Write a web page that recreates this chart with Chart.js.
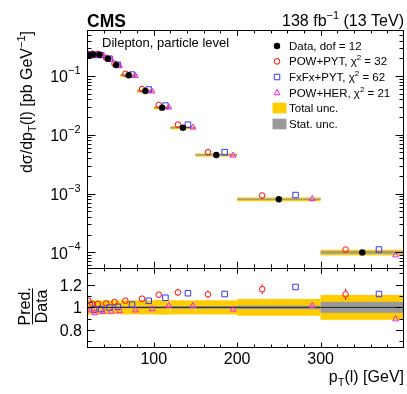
<!DOCTYPE html>
<html lang="en">
<head>
<meta charset="UTF-8">
<title>Lepton pT - dilepton, particle level</title>
<script src="https://cdn.jsdelivr.net/npm/chart.js"></script>
<style>
  html, body { margin: 0; padding: 0; background: #fff; }
  #wrap { position: relative; width: 407px; height: 394px; }
</style>
</head>
<body>
<div id="wrap"><canvas id="myChart" width="407" height="394"></canvas></div>

<script>
    // bins in pT(l) [GeV] and the measured cross section per bin
    const binEdges = [20, 25, 30, 40, 50, 60, 80, 100, 120, 150, 200, 300, 400];
    const dataValues = [0.225, 0.232, 0.230, 0.197, 0.154, 0.103, 0.0556, 0.0289, 0.0132, 0.00453, 0.00080, 0.000100];
    // relative uncertainties of the data
    const totalUnc = [0.065, 0.063, 0.062, 0.06, 0.06, 0.062, 0.062, 0.064, 0.062, 0.062, 0.074, 0.11];
    const statUnc = [0.006, 0.006, 0.006, 0.006, 0.007, 0.008, 0.009, 0.01, 0.012, 0.012, 0.016, 0.048];
    // predictions / data
    const powPytRatio = [1.06, 1.03, 1.03, 1.035, 1.047, 1.059, 1.077, 1.112, 1.132, 1.115, 1.16, 1.115];
    const powPytErr = [0.008, 0.008, 0.008, 0.009, 0.01, 0.012, 0.016, 0.028, 0.034, 0.033, 0.044, 0.05];
    const fxfxRatio = [1.02, 0.98, 0.985, 0.998, 1.005, 1.025, 1.058, 1.085, 1.125, 1.118, 1.18, 1.118];
    const powHerRatio = [0.975, 0.95, 0.962, 0.963, 0.968, 0.975, 0.985, 1.015, 1.014, 0.982, 1.014, 0.896];
    // tick labels
    const xTickLabels = [100, 200, 300];
    const yTickLabels = [1e-4, 1e-3, 1e-2, 1e-1];
    const ratioTickLabels = [0.8, 1, 1.2];
    const legendLabels = ['Data, dof = 12', 'POW+PYT', 'FxFx+PYT', 'POW+HER', 'Total unc.', 'Stat. unc.'];
    const chi2Values = [32, 62, 21];

    const FONT = '"Liberation Sans", Arial, Helvetica, sans-serif';
    const YELLOW = '#ffcc00';
    const GRAY = '#999999';
    const RED = '#ff0000';
    const BLUE = '#3636ff';
    const MAGENTA = '#ee22ee';

    // where each marker sits inside its bin (fraction of the bin width)
    const OFFSET = { data: 0.5, powPyt: 0.3, fxfx: 0.7, powHer: 0.9 };

    function f(size, bold) {
        return (bold ? 'bold ' : '') + size + 'px ' + FONT;
    }

    function binPos(i, frac) {
        return binEdges[i] + frac * (binEdges[i + 1] - binEdges[i]);
    }

    function mainPoints(ratio, frac) {
        return dataValues.map((v, i) => ({ x: binPos(i, frac), y: v * ratio[i] }));
    }

    function ratioPoints(ratio, frac) {
        return ratio.map((r, i) => ({ x: binPos(i, frac), y: r }));
    }

    function markerSet(label, points, axis, style, radius, color, filled) {
        return {
            label: label,
            data: points,
            xAxisID: 'x',
            yAxisID: axis,
            showLine: false,
            pointStyle: style,
            pointRadius: radius,
            pointHoverRadius: radius,
            pointBorderWidth: filled ? 0 : 1,
            pointBorderColor: color,
            pointBackgroundColor: filled ? color : 'rgba(0,0,0,0)'
        };
    }

    // text with sub/superscripts, drawn piece by piece
    function drawRich(ctx, parts, x, y, align) {
        let w = 0;
        parts.forEach(p => {
            ctx.font = p.font;
            p.w = ctx.measureText(p.text).width;
            w += p.w;
        });
        let cx = align === 'right' ? x - w : (align === 'center' ? x - w / 2 : x);
        ctx.textAlign = 'left';
        ctx.textBaseline = 'alphabetic';
        parts.forEach(p => {
            ctx.font = p.font;
            ctx.fillText(p.text, cx, y + (p.dy || 0));
            cx += p.w;
        });
    }

    function line(ctx, x0, y0, x1, y1) {
        ctx.beginPath();
        ctx.moveTo(x0, y0);
        ctx.lineTo(x1, y1);
        ctx.stroke();
    }

    function fillBand(ctx, x0, x1, top, bot, color, minH) {
        const h = Math.max(bot - top, minH);
        const mid = (top + bot) / 2;
        ctx.fillStyle = color;
        ctx.fillRect(x0, mid - h / 2, x1 - x0, h);
    }

    function legendMarker(ctx, style, radius, color, filled, x, y) {
        ctx.save();
        ctx.fillStyle = filled ? color : 'rgba(0,0,0,0)';
        ctx.strokeStyle = color;
        ctx.lineWidth = 1;
        Chart.helpers.drawPoint(ctx, { pointStyle: style, radius: radius, borderWidth: filled ? 0 : 1, rotation: 0 }, x, y);
        ctx.restore();
    }

    const panelPlugin = {
        id: 'panelPlugin',
        beforeDatasetsDraw(chart) {
            const { ctx, chartArea } = chart;
            const x = chart.scales.x, y = chart.scales.y, yr = chart.scales.yr;
            ctx.save();
            ctx.beginPath();
            ctx.rect(chartArea.left, chartArea.top, chartArea.right - chartArea.left, chartArea.bottom - chartArea.top);
            ctx.clip();

            // uncertainty bands, main panel and ratio
            for (let i = 0; i < dataValues.length; i++) {
                const x0 = x.getPixelForValue(binEdges[i]);
                const x1 = x.getPixelForValue(binEdges[i + 1]);
                const v = dataValues[i];
                fillBand(ctx, x0, x1, y.getPixelForValue(v * (1 + totalUnc[i])), y.getPixelForValue(v * (1 - totalUnc[i])), YELLOW, 0);
                fillBand(ctx, x0, x1, y.getPixelForValue(v * (1 + statUnc[i])), y.getPixelForValue(v * (1 - statUnc[i])), GRAY, 1.3);
                fillBand(ctx, x0, x1, yr.getPixelForValue(1 + totalUnc[i]), yr.getPixelForValue(1 - totalUnc[i]), YELLOW, 0);
                fillBand(ctx, x0, x1, yr.getPixelForValue(1 + statUnc[i]), yr.getPixelForValue(1 - statUnc[i]), GRAY, 1.3);
            }

            // line at ratio = 1
            ctx.strokeStyle = '#222';
            ctx.lineWidth = 1;
            const yOne = yr.getPixelForValue(1);
            line(ctx, chartArea.left, yOne, chartArea.right, yOne);

            // POW+PYT error bars in the ratio
            ctx.strokeStyle = RED;
            const r = 3;
            for (let i = 0; i < powPytRatio.length; i++) {
                const px = x.getPixelForValue(binPos(i, OFFSET.powPyt));
                const c = yr.getPixelForValue(powPytRatio[i]);
                const top = yr.getPixelForValue(powPytRatio[i] + powPytErr[i]);
                const bot = yr.getPixelForValue(powPytRatio[i] - powPytErr[i]);
                if (c - top > r) {
                    line(ctx, px, top, px, c - r);
                    line(ctx, px, c + r, px, bot);
                }
            }
            ctx.restore();
        },
        afterDraw(chart) {
            const { ctx, chartArea } = chart;
            const x = chart.scales.x, y = chart.scales.y, yr = chart.scales.yr;
            const L = chartArea.left, R = chartArea.right;
            ctx.save();
            ctx.strokeStyle = '#000';
            ctx.fillStyle = '#000';
            ctx.lineWidth = 1;

            // frames
            const crisp = v => Math.round(v) + 0.5;
            ctx.strokeRect(crisp(L), crisp(y.top), Math.round(R - L) - 1, Math.round(y.bottom - y.top));
            ctx.strokeRect(crisp(L), crisp(yr.top), Math.round(R - L) - 1, Math.round(yr.bottom - yr.top));

            // x ticks on both panels
            for (let v = 40; v < 400; v += 20) {
                const px = crisp(x.getPixelForValue(v));
                const major = v % 100 === 0;
                line(ctx, px, y.top, px, y.top + (major ? 6 : 3.5));
                line(ctx, px, y.bottom, px, y.bottom - (major ? 6 : 3.5));
                line(ctx, px, yr.top, px, yr.top + (major ? 6 : 3.5));
                line(ctx, px, yr.bottom, px, yr.bottom - (major ? 4.5 : 2.5));
            }

            // log y ticks
            for (let e = -5; e <= 0; e++) {
                for (let m = 1; m <= 9; m++) {
                    const v = m * Math.pow(10, e);
                    if (v < y.min || v > y.max) continue;
                    const py = crisp(y.getPixelForValue(v));
                    const len = m === 1 ? 8.5 : 4.5;
                    line(ctx, L, py, L + len, py);
                    line(ctx, R, py, R - len, py);
                }
            }

            // ratio y ticks
            for (let k = 7; k <= 13; k++) {
                const v = k / 10;
                const py = crisp(yr.getPixelForValue(v));
                const len = k % 2 === 0 ? 8 : 4.5;
                line(ctx, L, py, L + len, py);
                line(ctx, R, py, R - len, py);
            }

            // tick labels
            ctx.fillStyle = '#000';
            xTickLabels.forEach(v => {
                drawRich(ctx, [{ text: String(v), font: f(16) }], x.getPixelForValue(v), yr.bottom + 16.5, 'center');
            });
            yTickLabels.forEach(v => {
                const py = y.getPixelForValue(v);
                const exp = Math.round(Math.log10(v));
                drawRich(ctx, [
                    { text: '10', font: f(16) },
                    { text: '\u2212' + Math.abs(exp), font: f(11), dy: -8.5 }
                ], L - 6.5, py + 6.5, 'right');
            });
            ratioTickLabels.forEach(v => {
                const py = yr.getPixelForValue(v);
                drawRich(ctx, [{ text: String(v), font: f(16) }], L - 5, py + 6, 'right');
            });

            // axis titles
            drawRich(ctx, [
                { text: 'p', font: f(16) },
                { text: 'T', font: f(11), dy: 4 },
                { text: '(l) [GeV]', font: f(16) }
            ], R, 382, 'right');

            ctx.save();
            ctx.translate(32, y.top + 1);
            ctx.rotate(-Math.PI / 2);
            drawRich(ctx, [
                { text: 'd\u03c3/dp', font: f(16) },
                { text: 'T', font: f(11), dy: 4 },
                { text: '(l) [pb GeV', font: f(16) },
                { text: '\u22121', font: f(11), dy: -7 },
                { text: ']', font: f(16) }
            ], 0, 0, 'right');
            ctx.restore();

            const midR = (yr.top + yr.bottom) / 2 - 1;
            ctx.save();
            ctx.translate(30, midR);
            ctx.rotate(-Math.PI / 2);
            drawRich(ctx, [{ text: 'Pred.', font: f(16) }], 0, 0, 'center');
            drawRich(ctx, [{ text: 'Data', font: f(16) }], 0, 17, 'center');
            ctx.restore();
            line(ctx, 32.5, midR - 18, 32.5, midR + 18);

            // header
            drawRich(ctx, [{ text: 'CMS', font: f(17.5, true) }], L, 26.5, 'left');
            drawRich(ctx, [
                { text: '138 fb', font: f(16) },
                { text: '\u22121', font: f(11), dy: -7 },
                { text: ' (13 TeV)', font: f(16) }
            ], R, 26, 'right');
            drawRich(ctx, [{ text: 'Dilepton, particle level', font: f(13) }], 102, 47, 'left');

            // legend
            const lx = 277, tx = 289, rows = [46, 61.4, 77, 92.5, 108, 124];
            legendMarker(ctx, 'circle', 3.2, '#000', true, lx, rows[0]);
            legendMarker(ctx, 'circle', 2.8, RED, false, lx, rows[1]);
            legendMarker(ctx, 'rect', 3.9, BLUE, false, lx, rows[2]);
            legendMarker(ctx, 'triangle', 3.4, MAGENTA, false, lx, rows[3] + 0.5);
            ctx.fillStyle = YELLOW;
            ctx.fillRect(272.5, rows[4] - 5.3, 14, 10.6);
            ctx.fillStyle = GRAY;
            ctx.fillRect(272.5, rows[5] - 5.3, 14, 10.6);
            ctx.fillStyle = '#000';
            drawRich(ctx, [{ text: legendLabels[0], font: f(11.5) }], tx, rows[0] + 4, 'left');
            for (let k = 0; k < 3; k++) {
                drawRich(ctx, [
                    { text: legendLabels[k + 1] + ', \u03c7', font: f(11.5) },
                    { text: '2', font: f(8), dy: -5 },
                    { text: ' = ' + chi2Values[k], font: f(11.5) }
                ], tx, rows[k + 1] + 4, 'left');
            }
            drawRich(ctx, [{ text: legendLabels[4], font: f(11.5) }], tx, rows[4] + 4, 'left');
            drawRich(ctx, [{ text: legendLabels[5], font: f(11.5) }], tx, rows[5] + 4, 'left');
            ctx.restore();
        }
    };

    function hiddenAxis(extra) {
        return Object.assign({
            ticks: { display: false },
            grid: { display: false, drawTicks: false },
            border: { display: false },
            title: { display: false }
        }, extra);
    }

    const datasets = [
        markerSet('Data', dataValues.map((v, i) => ({ x: binPos(i, OFFSET.data), y: v })), 'y', 'circle', 3.2, '#000', true),
        markerSet('POW+HER', mainPoints(powHerRatio, OFFSET.powHer), 'y', 'triangle', 3.4, MAGENTA, false),
        markerSet('FxFx+PYT', mainPoints(fxfxRatio, OFFSET.fxfx), 'y', 'rect', 3.9, BLUE, false),
        markerSet('POW+PYT', mainPoints(powPytRatio, OFFSET.powPyt), 'y', 'circle', 2.8, RED, false),
        markerSet('POW+HER / Data', ratioPoints(powHerRatio, OFFSET.powHer), 'yr', 'triangle', 3.4, MAGENTA, false),
        markerSet('FxFx+PYT / Data', ratioPoints(fxfxRatio, OFFSET.fxfx), 'yr', 'rect', 3.9, BLUE, false),
        markerSet('POW+PYT / Data', ratioPoints(powPytRatio, OFFSET.powPyt), 'yr', 'circle', 2.8, RED, false)
    ];

    const ctx = document.getElementById('myChart').getContext('2d');
    const myChart = new Chart(ctx, {
        type: 'scatter',
        data: { datasets: datasets },
        options: {
            responsive: false,
            animation: false,
            devicePixelRatio: 1,
            events: [],
            layout: { padding: { top: 30, right: 3, left: 0, bottom: 0 }, autoPadding: false },
            plugins: { legend: { display: false }, tooltip: { enabled: false } },
            scales: {
                x: hiddenAxis({ type: 'linear', position: 'bottom', min: 20, max: 400, afterFit: s => { s.height = 47; } }),
                yr: hiddenAxis({ type: 'linear', position: 'left', min: 0.65, max: 1.35, stack: 'panels', stackWeight: 1, afterFit: s => { s.width = 87; } }),
                y: hiddenAxis({ type: 'logarithmic', position: 'left', min: 5.48e-5, max: 0.605, stack: 'panels', stackWeight: 3, afterFit: s => { s.width = 87; } })
            }
        },
        plugins: [panelPlugin]
    });
</script>
</body>
</html>
